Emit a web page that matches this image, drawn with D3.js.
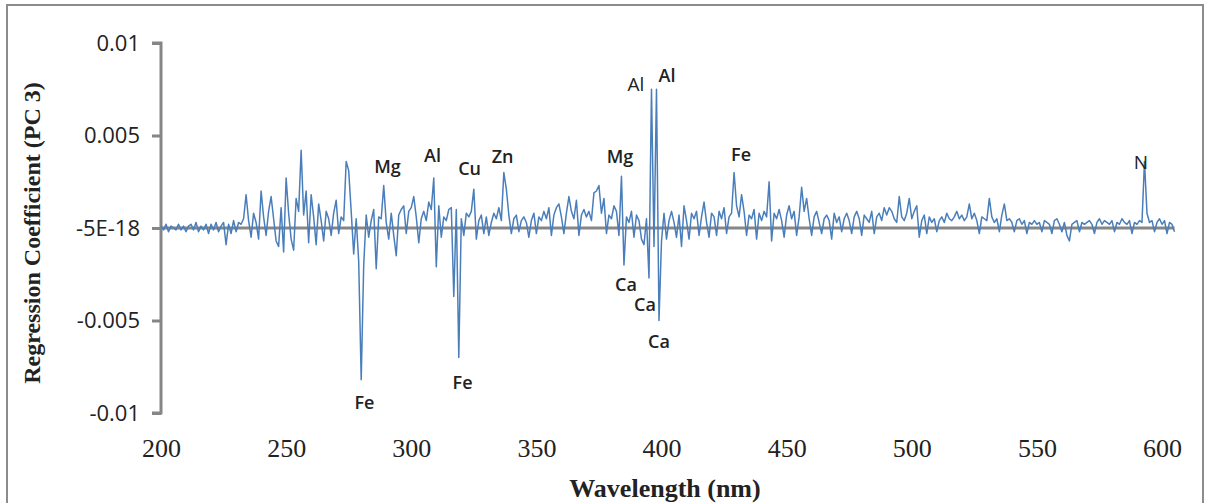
<!DOCTYPE html>
<html>
<head>
<meta charset="utf-8">
<script src="https://cdn.jsdelivr.net/npm/d3@7/dist/d3.min.js"></script>
<style>
  body { margin: 0; background: #fff; }
  svg { display: block; }
</style>
</head>
<body>
<div id="chart"></div>
<script>
// spectrum sampled at 1 nm, 200..605 nm; coefficient values in units of 1e-4
var wlStart = 200;
var coefE4 = [
  1, -1, 2, -2, 1, 0, -1, 2, -1, 1,
  -2, 1, 2, -1, 3, -2, 1, -1, 2, -3,
  2, -1, 3, -2, 1, 3, -9, 2, -3, 4,
  -2, 3, 2, 5, 18, 4, -5, 8, 3, -6,
  20, 6, -4, 9, 17, 5, -7, -10, 11, -13,
  27, 8, -6, -12, 16, 9, 42, 7, 20, -8,
  18, 6, -9, 13, 4, -7, 9, 5, -4, 8,
  15, -3, 6, 4, 36, 31, 9, -14, 5, -18,
  -82, -20, 7, -5, 4, 10, -22, 6, 5, 23,
  3, -6, 8, -4, -15, 7, 10, 12, -3, 9,
  11, 17, 6, -8, 5, 9, 4, 14, 10, 27,
  -21, 12, -5, 6, 4, 10, 11, -37, 10, -70,
  5, -4, 8, 6, 9, 21, -6, 4, 7, -3,
  6, -4, 3, 8, 5, 11, 4, 30, 21, 7,
  -3, 5, 7, -2, 4, 6, 3, -5, 4, 8,
  -3, 6, 4, 9, 5, 11, -4, 7, 11, 13,
  6, -3, 8, 17, 9, 5, 15, -4, 7, 10,
  6, 9, 4, 19, 20, 23, 8, 16, -3, 7,
  5, 12, 9, -4, 28, -20, 6, 3, 9, -5,
  7, 4, -6, -9, 5, -27, 75, -10, 75, -50,
  -7, 8, -6, 4, 9, 3, -5, 7, -10, 12,
  4, -6, 8, 5, 9, -4, 6, 14, 3, -5,
  8, 6, -4, 9, 5, 11, -3, 6, 8, 30,
  12, 6, 18, 9, -4, 7, 5, 10, -6, 8,
  4, 9, 6, 25, -7, 8, 5, 10, 4, -5,
  7, 12, 5, 9, -4, 6, 22, 9, 16, 5,
  -4, 6, 9, 3, -3, 5, 7, 4, -6, 8,
  3, 6, -2, 5, 8, 4, -3, 6, 9, 5,
  -4, 7, 5, 3, 9, -3, 6, 8, 4, 11,
  7, 11, 9, 5, 3, 17, 6, 4, 8, 16,
  5, 9, 12, -5, 4, 7, -3, 6, 3, 5,
  -2, 4, 6, 3, 8, 5, 4, 6, 9, 5,
  7, 4, 6, 13, 5, 8, 4, -3, 6, 5,
  4, 16, 6, 3, 5, -2, 7, 13, 4, 5,
  3, -2, 4, 5, 2, 4, -3, 3, 2, 4,
  2, 3, -2, 4, 3, 2, -3, 4, 5, 2,
  -2, 3, -4, -7, 2, 3, 4, -2, 3, 2,
  3, 4, 2, -3, 3, 5, 2, 4, 3, 2,
  4, -2, 3, 2, 5, 3, 2, 4, -3, 3,
  2, 4, 3, 36, 8, 3, 4, -2, 3, 5,
  2, 4, -3, 3, 2, -2
];

var xTicks = [200, 250, 300, 350, 400, 450, 500, 550, 600];
var yTicks = [-0.01, -0.005, 0, 0.005, 0.01];
var yTickLabels = ["-0.01", "-0.005", "-5E-18", "0.005", "0.01"];

// peak annotations (label anchor in data units)
var peakNames = ["Fe", "Mg", "Al", "Cu", "Zn", "Fe", "Mg", "Al", "Al", "Ca", "Ca", "Ca", "Fe", "N"];
var peakWl    = [281.3, 290.5, 308.5, 323.3, 336.5, 320.5, 383.4, 389.8, 402.2, 385.8, 393.4, 399.0, 431.8, 591.6];
var peakVal   = [-0.0098, 0.0030, 0.00355, 0.00284, 0.0035, -0.0087, 0.0035, 0.00743, 0.0079, -0.0034, -0.0045, -0.0065, 0.0036, 0.0032];
var peakBold  = [true, true, true, true, true, true, true, false, true, true, true, true, true, false];

var spectrum = coefE4.map(function(v, i) { return { wl: wlStart + i, c: v / 10000 }; });

var W = 1212, H = 503;
var svg = d3.select("#chart").append("svg").attr("width", W).attr("height", H);

svg.append("rect").attr("x", 7).attr("y", 5).attr("width", 1196).attr("height", 510)
  .attr("fill", "#fff").attr("stroke", "#8c8c8c").attr("stroke-width", 2);

var x = d3.scaleLinear().domain([200, 600]).range([161, 1162]);
var y = d3.scaleLinear().domain([-0.01, 0.01]).range([413, 43]);

// zero line (horizontal axis)
svg.append("line").attr("x1", x(200)).attr("x2", x(605)).attr("y1", y(0)).attr("y2", y(0))
  .attr("stroke", "#868686").attr("stroke-width", 3);

// y axis
var yAxis = d3.axisLeft(y).tickValues(yTicks).tickSize(9).tickPadding(12)
  .tickFormat(function(d, i) { return yTickLabels[i]; });
var gy = svg.append("g").attr("transform", "translate(" + x(200) + ",0)").call(yAxis);
gy.select(".domain").attr("stroke", "#868686").attr("stroke-width", 3).attr("d", "M-9," + y(0.01) + "H0V" + y(-0.01) + "H-9");
gy.selectAll(".tick line").attr("stroke", "#868686").attr("stroke-width", 3);
gy.selectAll(".tick text").attr("font-family", "'Open Sans', sans-serif").attr("font-size", 22).attr("fill", "#222");

// x tick labels sit below the plot area
var gx = svg.append("g").attr("transform", "translate(0,413)")
  .call(d3.axisBottom(x).tickValues(xTicks).tickSize(0).tickPadding(26).tickFormat(d3.format("d")));
gx.select(".domain").remove();
gx.selectAll(".tick text").attr("font-family", "'Liberation Serif', 'Times New Roman', serif").attr("font-size", 26).attr("fill", "#222");

// spectrum line
var line = d3.line().x(function(d) { return x(d.wl); }).y(function(d) { return y(d.c); });
svg.append("path").datum(spectrum).attr("d", line).attr("fill", "none")
  .attr("stroke", "#4a7ebb").attr("stroke-width", 1.5).attr("stroke-linejoin", "round");

// annotations
svg.append("g").selectAll("text").data(peakNames).enter().append("text")
  .attr("x", function(d, i) { return x(peakWl[i]); })
  .attr("y", function(d, i) { return y(peakVal[i]); })
  .attr("text-anchor", "middle")
  .attr("font-family", "'Open Sans', sans-serif")
  .attr("font-size", function(d, i) { return peakBold[i] ? 18 : 19; })
  .attr("font-weight", function(d, i) { return peakBold[i] ? 600 : 400; })
  .attr("fill", "#222")
  .text(function(d) { return d; });

// axis titles
svg.append("text").attr("transform", "translate(40,233) rotate(-90)").attr("text-anchor", "middle")
  .attr("font-family", "'Liberation Serif', 'Times New Roman', serif").attr("font-weight", "bold").attr("font-size", 24)
  .attr("fill", "#222").text("Regression Coefficient (PC 3)");
svg.append("text").attr("x", 665).attr("y", 497).attr("text-anchor", "middle")
  .attr("font-family", "'Liberation Serif', 'Times New Roman', serif").attr("font-weight", "bold").attr("font-size", 26)
  .attr("fill", "#222").text("Wavelength (nm)");
</script>
</body>
</html>
